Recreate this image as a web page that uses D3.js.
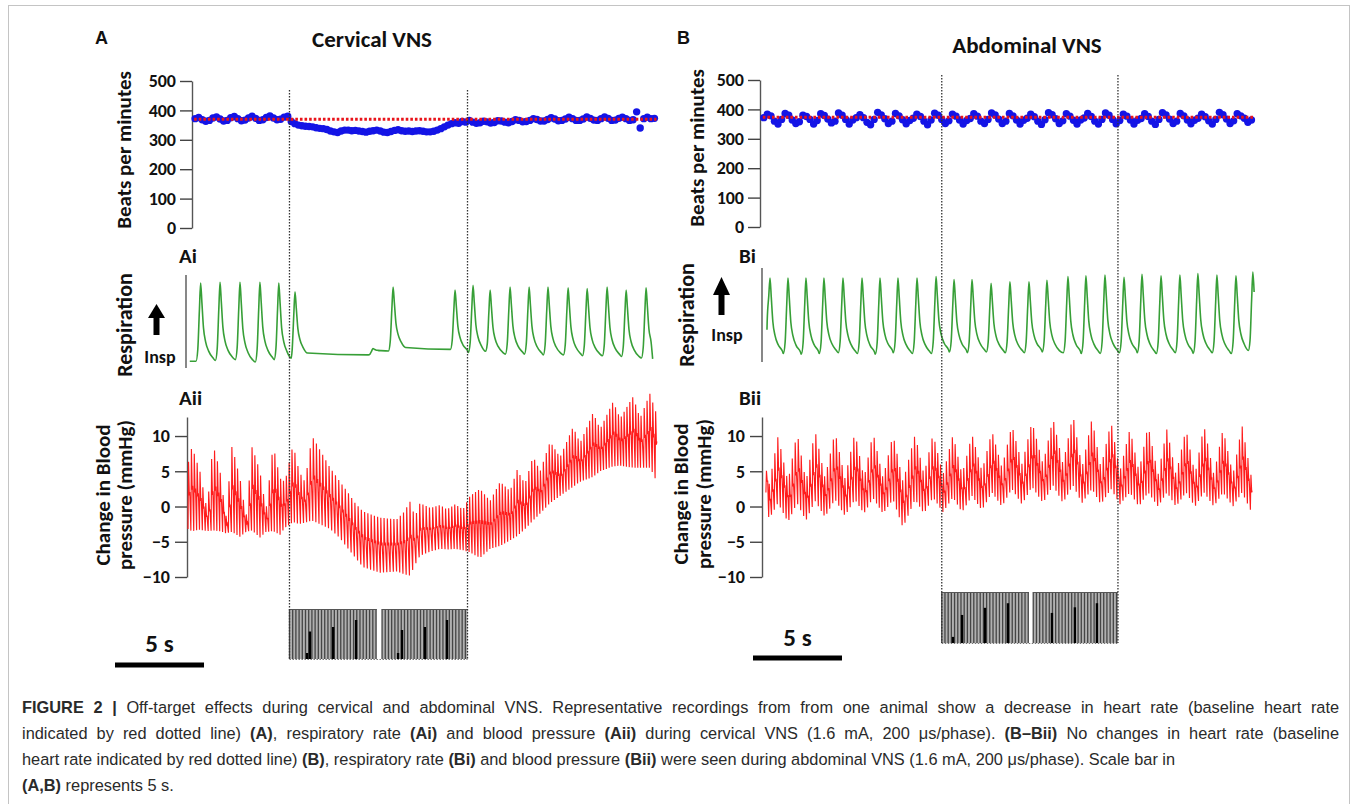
<!DOCTYPE html>
<html><head><meta charset="utf-8">
<script src="https://cdn.jsdelivr.net/npm/d3@7"></script>
<style>
body{margin:0;background:#fff;}
svg{display:block;}
.lab{font-family:Carlito,Lato,'Open Sans',sans-serif;font-weight:700;fill:#111;}
.cap{font-family:'Liberation Sans',Arial,sans-serif;fill:#2a2a2a;}
</style></head><body>
<svg id="c" width="1357" height="804"></svg>
<script>
// ---------------- DATA ----------------
const hrTicks = [0, 100, 200, 300, 400, 500];
const bpTicks = [-10, -5, 0, 5, 10];
const baselineHR_A = 370, baselineHR_B = 373;

// heart rate (beats/min), one value every hrStep seconds
const hrStartA = 0.4, hrStepA = 0.2;
const hrA = [372,376,368,363,366,374,378,371,364,366,375,379,372,365,367,374,380,373,366,368,376,381,374,368,370,377,380,
 362,355,350,348,346,345,344,341,339,338,335,330,327,325,330,333,333,331,332,330,328,326,329,331,333,330,326,325,328,332,
 334,331,329,330,328,330,331,329,327,327,329,333,338,344,350,355,358,356,362,360,366,
 360,356,358,363,361,357,359,365,364,360,358,362,368,366,361,362,366,372,369,364,364,369,375,371,365,
 366,371,377,372,366,366,371,378,373,367,366,372,378,373,366,367,373,377,372,366,368,395,340,372,377,372,373];
const hrStartB = 0.1, hrStepB = 0.2;
const hrB = [372,384,378,360,350, 366,386,380,364,352,358, 380,376,366,350,362, 385,379,367,354,360,
 388,380,366,350,364,372, 382,372,356,348,366, 390,381,368,352,360, 386,378,365,351,362,370,
 384,376,360,348,364, 387,380,366,352,361, 384,377,364,350,362,369, 385,377,360,352,366,
 388,381,367,352,360, 386,378,364,350,363,370, 384,375,360,349,365, 389,382,368,352,361,
 385,377,363,350,364,371, 386,376,360,350,366, 388,380,366,351,362, 384,377,364,350,363,369,
 385,376,360,349,366, 389,381,367,352,360, 386,378,364,351,363,370, 384,375,361,350,366,
 390,382,367,352,361, 385,378,370,356,364];

// respiration: breath peak times (s), peak level and following baseline (arbitrary units)
const respStartA = 0.1, respEndA = 26.1, respBase0A = 1;
const respPeakT_A = [0.71,1.80,2.92,4.04,5.10,6.01,10.39,11.52,15.00,16.01,16.97,18.09,19.16,20.22,21.35,22.42,23.54,24.61,25.73];
const respPeakV_A = [100,101,101,101,100,89,17,95,91,97,91,95,95,95,94,93,95,91,94];
const respBaseV_A = [2,3,0,3,2,9,14,16,12,11,10,10,9,9,8,8,7,5,4];
const respStartB = 0.28, respEndB = 27.65, respBase0B = 30;
const respPeakT_B = [0.45,1.46,2.47,3.48,4.55,5.62,6.63,7.64,8.71,9.78,10.79,11.80,12.87,13.93,15.00,16.01,17.19,18.20,19.27,20.34,21.35,22.42,23.48,24.49,25.56,26.63,27.58];
const respPeakV_B = [100,100,100,100,100,100,100,100,100,102,98,98,93,95,95,97,102,103,104,101,105,103,104,106,104,103,108];
const respBaseV_B = [-2,-3,-2,-1,-2,-3,-1,-2,-2,0,-1,0,-1,-1,0,-1,-2,-2,-1,-1,-2,-1,-2,-1,-2,-1,0];

// blood pressure envelope (mmHg): systolic top / diastolic bottom at knot times (s)
const bpKnotT_A = [0.00,0.22,0.67,1.07,1.40,1.80,2.13,2.47,2.92,3.26,3.60,4.04,4.38,4.78,5.17,5.45,5.90,6.24,6.57,6.97,7.42,7.98,8.54,8.93,9.38,9.83,10.79,11.74,12.13,12.47,12.75,13.03,13.60,14.16,14.55,15.00,15.45,15.84,16.40,16.97,17.53,18.09,18.48,18.93,19.38,19.78,20.34,20.90,21.63,22.02,22.75,23.15,23.88,24.27,25.00,25.39,25.96,26.24];
const bpTop_A = [6.0,8.5,5.0,-0.5,8.8,5.0,-1.5,8.6,4.0,-1.5,8.5,5.0,-0.5,8.7,4.0,3.5,8.8,5.0,3.5,10.0,8.0,5.5,3.5,2.2,0.5,-0.7,-1.6,-1.8,-0.8,0.7,-1.5,0.5,-0.2,0.2,-0.4,0.3,-0.4,1.5,2.5,0.8,3.5,2.2,5.2,3.2,7.1,5.0,9.2,7.0,11.3,9.0,13.3,11.0,14.9,12.5,15.6,12.5,16.1,13.5];
const bpBot_A = [-3.2,-3.5,-3.3,-3.5,-3.4,-3.5,-3.8,-3.6,-4.3,-3.6,-3.4,-4.4,-3.6,-3.5,-4.0,-3.0,-2.2,-2.5,-2.3,-2.0,-2.5,-3.2,-4.5,-5.8,-7.2,-8.6,-9.4,-9.2,-9.6,-9.8,-8.3,-7.0,-6.4,-6.0,-6.1,-6.0,-6.2,-6.5,-7.3,-6.0,-5.6,-4.8,-4.2,-3.2,-2.0,-1.0,0.5,1.5,2.8,3.5,4.2,5.0,5.7,5.8,5.5,5.5,5.5,4.0];
const bpKnotT_B = [0.22,0.39,0.90,1.46,1.97,2.47,2.98,3.54,4.10,4.66,5.22,5.73,6.24,6.80,7.36,7.92,8.60,9.10,9.61,10.17,10.73,11.24,11.80,12.36,12.92,13.48,14.04,14.61,15.17,15.79,16.35,16.91,17.47,17.98,18.54,19.04,19.61,20.11,20.67,21.18,21.69,22.25,22.75,23.26,23.82,24.33,24.83,25.39,25.90,26.46,26.97,27.58];
const bpTop_B = [5.5,3.0,10.0,3.5,10.5,3.5,10.8,4.0,10.6,4.0,10.5,4.0,10.5,4.0,10.2,3.5,10.2,4.5,10.3,4.5,10.2,4.5,10.2,5.0,10.7,5.5,11.5,6.0,12.0,6.0,12.5,6.0,13.0,5.5,12.5,5.5,12.0,5.0,11.0,5.0,11.5,4.5,11.0,4.5,11.0,4.5,11.5,4.5,11.0,4.5,11.5,3.0];
const bpBot_B = [2.0,-1.8,0.5,-2.2,0.5,-2.0,0.8,-1.5,1.0,-1.3,1.0,-1.0,1.2,-1.0,1.0,-3.0,1.0,-1.0,1.3,-0.8,1.3,-0.8,1.5,-0.5,2.0,0.0,2.5,0.3,2.8,0.5,3.0,0.5,3.0,0.5,2.5,0.3,2.5,0.3,2.0,0.0,2.0,0.0,2.0,0.0,2.0,0.0,2.0,0.0,2.0,0.0,2.0,-1.2];

// stimulation (s)
const stimA = [5.7, 15.7], trainsA = [[5.7,10.6],[10.9,15.7]];
const stimMarkT_A = [6.69,6.85,8.15,9.44,11.80,12.02,13.31,14.55], stimMarkH_A = [0.12,0.55,0.64,0.78,0.12,0.58,0.64,0.78];
const stimB = [10.1, 20.0], trainsB = [[10.1,14.96],[15.24,20.0]];
const stimMarkT_B = [10.73,11.24,12.53,13.82,16.29,17.58,18.82], stimMarkH_B = [0.12,0.55,0.69,0.78,0.59,0.70,0.78];
const stimPulseInterval = 0.18;
const scaleBarSeconds = 5;

// ---------------- DRAW ----------------
const svg = d3.select('#c');
svg.append('rect').attr('x',8.5).attr('y',5.5).attr('width',1341).attr('height',830)
  .attr('fill','none').attr('stroke','#c4c4c4').attr('stroke-width',1);

function interp(ts, vs){
  return t => {
    if (t <= ts[0]) return vs[0];
    if (t >= ts[ts.length-1]) return vs[vs.length-1];
    const i = d3.bisectRight(ts, t) - 1;
    const f = (t - ts[i]) / (ts[i+1] - ts[i]);
    return vs[i] + f * (vs[i+1] - vs[i]);
  };
}

function styleAxis(sel, fs){
  sel.attr('font-size', null).attr('font-family', null);
  sel.select('.domain').attr('stroke','#555').attr('stroke-width',1.4);
  sel.selectAll('.tick line').attr('stroke','#444').attr('stroke-width',1.4);
  sel.selectAll('.tick text').attr('class','lab').attr('font-size',fs).attr('fill','#111');
}

function drawPanel(P){
  const g = svg.append('g');
  const x = d3.scaleLinear().domain([0, P.tEnd]).range([P.x0, P.x1]);

  // headings
  g.append('text').attr('x',P.letter[0]).attr('y',P.letter[1]).text(P.letter[2])
    .attr('font-family',"'Liberation Sans',Arial,sans-serif").attr('font-weight',700).attr('font-size',18).attr('fill','#111');
  g.append('text').attr('class','lab').attr('x',P.title[0]).attr('y',P.title[1]).attr('text-anchor','middle')
    .attr('font-size',23).text(P.title[2]);
  P.subs.forEach(s => g.append('text').attr('class','lab').attr('x',s[0]).attr('y',s[1]).attr('font-size',21).text(s[2]));

  const vlabel = (xx, yy, t, fs) => g.append('text').attr('class','lab')
    .attr('transform',`translate(${xx},${yy}) rotate(-90)`).attr('text-anchor','middle')
    .attr('dominant-baseline','central').attr('font-size',fs).text(t);

  // ---- heart rate ----
  const yH = d3.scaleLinear().domain([0,500]).range(P.hrRange);
  g.append('g').attr('transform',`translate(${P.hrAxisX},0)`)
    .call(d3.axisLeft(yH).tickValues(hrTicks).tickSize(12).tickSizeOuter(0).tickPadding(4))
    .call(s => styleAxis(s, 18));
  vlabel(P.hrLabel[0], P.hrLabel[1], 'Beats per minutes', 21);
  g.append('g').selectAll('circle').data(P.hr).join('circle')
    .attr('cx',(d,i)=>x(P.hrT0 + i*P.hrStep)).attr('cy',d=>yH(d)).attr('r',3.7).attr('fill','#1414e6');
  g.append('line').attr('x1',x(P.hrT0)-1).attr('x2',x(P.hrT0+(P.hr.length-1)*P.hrStep)+2)
    .attr('y1',yH(P.baseHR)).attr('y2',yH(P.baseHR))
    .attr('stroke','#e8141b').attr('stroke-width',3).attr('stroke-dasharray','2.6,2');

  // ---- respiration ----
  const yR = d3.scaleLinear().domain([0,100]).range(P.respRange);
  g.append('line').attr('x1',P.respAxis[0]).attr('x2',P.respAxis[0]).attr('y1',P.respAxis[1]).attr('y2',P.respAxis[2])
    .attr('stroke','#555').attr('stroke-width',1.4);
  vlabel(P.respLabel[0], P.respLabel[1], 'Respiration', 22);
  const ar = P.arrow; // [cx, headTop, headBottom, shaftBottom]
  g.append('path').attr('d',`M${ar[0]-8.5},${ar[2]} L${ar[0]},${ar[1]} L${ar[0]+8.5},${ar[2]} Z`).attr('fill','#000');
  g.append('rect').attr('x',ar[0]-3).attr('y',ar[2]-1).attr('width',6).attr('height',ar[3]-ar[2]+1).attr('fill','#000');
  g.append('text').attr('class','lab').attr('x',P.insp[0]).attr('y',P.insp[1]).attr('text-anchor','middle').attr('font-size',18).text('Insp');

  const rp = [[P.respStart, P.respBase0]];
  let prev = P.respBase0;
  P.respT.forEach((tp,i) => {
    const pv = P.respV[i], bv = P.respB[i];
    [[tp-0.26,prev],[tp-0.16,prev+0.15*(pv-prev)],[tp-0.07,prev+0.65*(pv-prev)],[tp,pv],
     [tp+0.07,bv+0.75*(pv-bv)],[tp+0.16,bv+0.42*(pv-bv)],[tp+0.28,bv+0.24*(pv-bv)],
     [tp+0.45,bv+0.12*(pv-bv)],[tp+0.7,bv+0.03*(pv-bv)]].forEach(p => {
       if (p[0] > rp[rp.length-1][0] && p[0] <= P.respEnd) rp.push(p);
     });
    prev = bv;
  });
  if (rp[rp.length-1][0] < P.respEnd) rp.push([P.respEnd, prev]);
  g.append('path').attr('d', d3.line().x(d=>x(d[0])).y(d=>yR(d[1])).curve(d3.curveMonotoneX)(rp))
    .attr('fill','none').attr('stroke','#379f37').attr('stroke-width',1.6).attr('stroke-linejoin','round');

  // ---- blood pressure ----
  const yB = d3.scaleLinear().domain([-10,12.7]).range([577,417]);
  g.append('g').attr('transform',`translate(${P.bpAxisX},0)`)
    .call(d3.axisLeft(yB).tickValues(bpTicks).tickSize(12).tickSizeOuter(0).tickPadding(5))
    .call(s => styleAxis(s, 18));
  vlabel(P.bpLabel[0], P.bpLabel[2], 'Change in Blood', 21);
  vlabel(P.bpLabel[1], P.bpLabel[2], 'pressure (mmHg)', 21);
  const top = interp(P.bpT, P.bpTop), bot = interp(P.bpT, P.bpBot);
  // beat times derived from the heart-rate record
  const hrAt = t => P.hr[Math.max(0, Math.min(P.hr.length-1, Math.round((t-P.hrT0)/P.hrStep)))];
  const bp = [];
  for (let t = P.bpT[0]; t < P.bpT[P.bpT.length-1]; t += 60/hrAt(t)) {
    const lo = bot(t), hi = top(t+0.03);
    bp.push([t,lo],[t+0.03,hi],[t+0.075,lo+0.5*(hi-lo)],[t+0.1,lo+0.55*(hi-lo)]);
  }
  g.append('path').attr('d', d3.line().x(d=>x(d[0])).y(d=>yB(d[1]))(bp))
    .attr('fill','none').attr('stroke','#ff1c1c').attr('stroke-width',1.15).attr('stroke-linejoin','miter');

  // ---- stimulation ----
  const sy0 = P.stimY[0], sy1 = P.stimY[1];
  P.trains.forEach(([a,b]) => {
    g.append('rect').attr('x',x(a)).attr('y',sy0).attr('width',x(b)-x(a)).attr('height',sy1-sy0).attr('fill','#b0b0b0');
    g.append('g').selectAll('line').data(d3.range(a, b+1e-6, stimPulseInterval)).join('line')
      .attr('x1',d=>x(d)).attr('x2',d=>x(d)).attr('y1',sy0).attr('y2',sy1)
      .attr('stroke','#454545').attr('stroke-width',1.3);
    g.append('line').attr('x1',x(a)).attr('x2',x(b)).attr('y1',sy0+0.5).attr('y2',sy0+0.5).attr('stroke','#555').attr('stroke-width',1.2);
  });
  g.append('g').selectAll('line').data(P.marksT).join('line')
    .attr('x1',d=>x(d)).attr('x2',d=>x(d)).attr('y1',sy1).attr('y2',(d,i)=>sy1-P.marksH[i]*(sy1-sy0))
    .attr('stroke','#000').attr('stroke-width',2.4);
  g.append('line').attr('x1',x(P.stim[0])).attr('x2',x(P.stim[1])).attr('y1',sy1+0.5).attr('y2',sy1+0.5)
    .attr('stroke','#777').attr('stroke-width',1).attr('stroke-dasharray','1.5,1.5');
  P.stim.forEach(s => g.append('line').attr('x1',x(s)).attr('x2',x(s)).attr('y1',P.dotY[0]).attr('y2',P.dotY[1])
    .attr('stroke','#333').attr('stroke-width',1.3).attr('stroke-dasharray','1.6,1.4'));

  // ---- scale bar ----
  const w = x(scaleBarSeconds) - x(0);
  g.append('rect').attr('x',P.scale[0]).attr('y',P.scale[1]-2.5).attr('width',w).attr('height',5).attr('fill','#000');
  g.append('text').attr('class','lab').attr('x',P.scale[0]+w/2).attr('y',P.scale[2]).attr('text-anchor','middle')
    .attr('font-size',25).text(scaleBarSeconds + ' s');
}

drawPanel({
  tEnd:26.4, x0:188, x1:658,
  letter:[95,44,'A'], title:[372,47,'Cervical VNS'], subs:[[179,263,'Ai'],[179,405,'Aii']],
  hrRange:[228,81], hrAxisX:192, hrLabel:[124,150], hr:hrA, hrT0:hrStartA, hrStep:hrStepA, baseHR:baselineHR_A,
  respRange:[362,283], respAxis:[186,275,368], respLabel:[124,325], arrow:[156.5,304,318,335], insp:[160,363],
  respStart:respStartA, respEnd:respEndA, respBase0:respBase0A, respT:respPeakT_A, respV:respPeakV_A, respB:respBaseV_A,
  bpAxisX:187, bpLabel:[103,125,495], bpT:bpKnotT_A, bpTop:bpTop_A, bpBot:bpBot_A,
  stim:stimA, trains:trainsA, marksT:stimMarkT_A, marksH:stimMarkH_A, stimY:[609,659], dotY:[90,660],
  scale:[115,665,652]
});
drawPanel({
  tEnd:27.7, x0:762, x1:1255,
  letter:[677,44,'B'], title:[1027,53,'Abdominal VNS'], subs:[[739,263,'Bi'],[739,405,'Bii']],
  hrRange:[227,80], hrAxisX:760, hrLabel:[697,148], hr:hrB, hrT0:hrStartB, hrStep:hrStepB, baseHR:baselineHR_B,
  respRange:[352,278], respAxis:[762,268,362], respLabel:[686,315], arrow:[721.5,277,295,315], insp:[727,341],
  respStart:respStartB, respEnd:respEndB, respBase0:respBase0B, respT:respPeakT_B, respV:respPeakV_B, respB:respBaseV_B,
  bpAxisX:762, bpLabel:[681,704,494], bpT:bpKnotT_B, bpTop:bpTop_B, bpBot:bpBot_B,
  stim:stimB, trains:trainsB, marksT:stimMarkT_B, marksH:stimMarkH_B, stimY:[592,643], dotY:[75,643],
  scale:[753,658,646]
});

// ---------------- CAPTION ----------------
const captionLines = [
  [[ 'FIGURE 2 | ', 1 ], [ 'Off-target effects during cervical and abdominal VNS. Representative recordings from from one animal show a decrease in heart rate (baseline heart rate', 0 ]],
  [[ 'indicated by red dotted line) ', 0 ], [ '(A)', 1 ], [ ', respiratory rate ', 0 ], [ '(Ai)', 1 ], [ ' and blood pressure ', 0 ], [ '(Aii)', 1 ],
   [ ' during cervical VNS (1.6 mA, 200 \u03bcs/phase). ', 0 ], [ '(B\u2013Bii)', 1 ], [ ' No changes in heart rate (baseline', 0 ]],
  [[ 'heart rate indicated by red dotted line) ', 0 ], [ '(B)', 1 ], [ ', respiratory rate ', 0 ], [ '(Bi)', 1 ], [ ' and blood pressure ', 0 ], [ '(Bii)', 1 ],
   [ ' were seen during abdominal VNS (1.6 mA, 200 \u03bcs/phase). Scale bar in', 0 ]],
  [[ '(A,B)', 1 ], [ ' represents 5 s.', 0 ]]
];
const captionY = [713, 739, 765, 791];
const captionJustify = [true, true, false, false];
const captionFullW = 1318, captionLine3W = 1154;
const capNodes = captionLines.map(parts => {
  const t = svg.append('text').attr('class','cap').attr('x',0).attr('y',0).attr('font-size',16.5);
  parts.forEach(([s,b]) => t.append('tspan').attr('font-weight', b ? 700 : 400).text(s));
  return t;
});
const natW = capNodes.map(t => t.node().getComputedTextLength());
const squeeze = captionLine3W / natW[2];
capNodes.forEach((t,k) => {
  let ws = 0;
  if (captionJustify[k]) {
    const n = (t.text().match(/ /g) || []).length;
    ws = (captionFullW / squeeze - natW[k]) / n;
  }
  t.attr('word-spacing', ws).attr('transform', `translate(22,${captionY[k]}) scale(${squeeze},1)`);
});
</script>
</body></html>
